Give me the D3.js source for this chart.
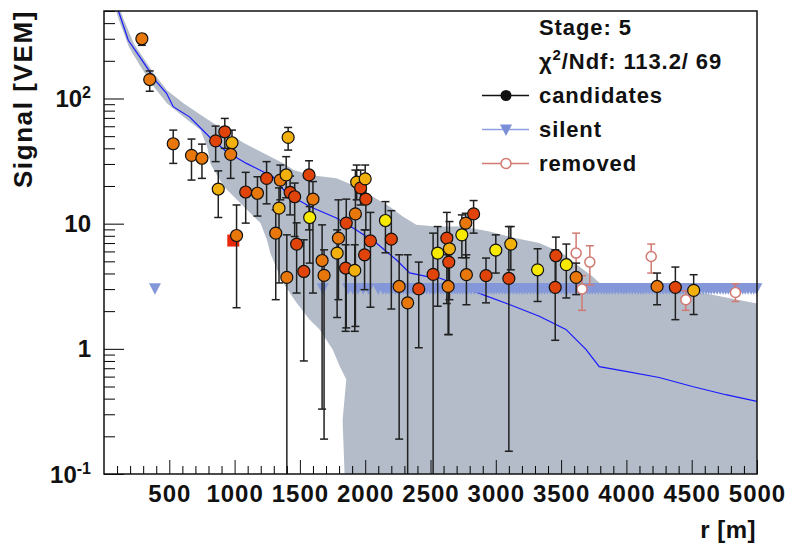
<!DOCTYPE html>
<html>
<head>
<meta charset="utf-8">
<script src="https://cdn.jsdelivr.net/npm/d3@7"></script>
<style>
  body { margin: 0; background: #fff; }
  svg { display: block; font-family: "Liberation Sans", Arial, Helvetica, sans-serif; font-weight: bold; }
</style>
</head>
<body>
<svg id="chart"></svg>
<script>
// Lateral distribution of one event: station signals vs distance, LDF fit and its band.

const width = 789;
const height = 544;

// candidate stations: r [m], signal [VEM], error bar ends, timing class
const candR = [290, 350, 530, 670, 750, 855, 925, 980, 970, 875, 1015, 1410, 1245, 1085, 1175, 1350, 1395, 1425, 1460, 1340,
  1315, 1400, 1475, 1530, 1570, 1600, 1575, 1670, 1685, 1795, 1785, 1855, 1850, 1925, 1920, 1935, 1965, 2000, 2005, 2040,
  1995, 2155, 2200, 2260, 2325, 2410, 2520, 2555, 2625, 2645, 2640, 2635, 2740, 2770, 2830, 2775, 2925, 3000, 3115, 3100,
  3320, 3460, 3455, 3540, 3615, 4235, 4375, 4515];
const candS = [300, 141.7, 43.5, 35.1, 33.3, 45.9, 54.2, 44.3, 35.8, 18.9, 8.04, 48.9, 23.0, 17.9, 17.5, 22.3, 24.5, 17.8, 16.4, 13.3,
  8.4, 3.72, 6.87, 4.15, 24.5, 15.7, 11.2, 5.08, 3.86, 7.66, 5.82, 10.1, 4.42, 11.97, 4.23, 21.5, 19.3, 22.8, 15.7, 7.29,
  5.64, 10.6, 7.52, 3.15, 2.33, 3.01, 3.93, 5.82, 7.66, 6.3, 4.93, 3.15, 8.14, 10.1, 11.97, 3.91, 3.84, 6.15, 6.87, 3.65,
  4.28, 5.54, 3.1, 4.7, 3.72, 3.15, 3.1, 2.93];
const candLo = [266, 114.3, 30.3, 22.3, 23.0, 31.3, 40.0, 35.3, 23.0, 11.2, 2.13, 38.7, 14.4, 10.1, 11.5, 15.5, 16.1, 11.75, 7.89, 3.36,
  2.47, 0.05, 2.79, 0.8, 8.92, 2.79, 4.84, 0.33, 0.19, 2.47, 1.78, 1.47, 1.38, 1.51, 1.38, 15.5, 14.1, 17.0, 8.92, 2.15,
  2.97, 5.85, 2.08, 0.19, 0.05, 1.02, 0.05, 2.19, 2.3, 2.47, 1.3, 1.3, 5.34, 5.34, 8.4, 2.25, 2.33, 4.03, 4.28, 0.152,
  2.39, 2.97, 1.17, 2.55, 2.71, 2.25, 1.71, 1.88];
const candHi = [325, 166, 55.9, 47.4, 43.2, 60.2, 69.3, 55.9, 41.7, 26.4, 14.1, 58.7, 31.3, 25.7, 23.7, 29.4, 34.3, 24.0, 21.1, 19.3,
  12.9, 8.14, 10.15, 7.43, 31.8, 21.7, 13.7, 9.78, 6.18, 15.5, 8.92, 15.7, 6.78, 26.8, 6.78, 29.4, 26.8, 29.4, 22.3, 12.3,
  8.92, 15.0, 12.7, 5.64, 5.64, 4.93, 8.4, 9.48, 12.3, 10.4, 8.14, 5.64, 11.75, 12.1, 15.3, 5.64, 5.31, 8.14, 9.48, 9.48,
  6.3, 7.81, 6.18, 6.87, 4.84, 4.03, 4.5, 3.91];
const candTime = ["o", "o", "o", "o", "o", "r", "r", "g", "o", "g", "o", "g", "r", "r", "o", "o", "g", "r", "r", "g",
  "o", "o", "r", "r", "r", "o", "y", "o", "o", "o", "g", "r", "r", "o", "g", "g", "r", "g", "r", "r",
  "r", "y", "r", "o", "o", "r", "r", "y", "r", "g", "r", "o", "y", "o", "r", "o", "r", "y", "g", "r",
  "y", "r", "r", "y", "o", "o", "r", "g"];

// saturated station drawn as a square
const satR = [990];
const satS = [7.33];

// removed stations
const remR = [3615, 3720, 3660, 4190, 4455, 4835];
const remS = [5.82, 4.93, 3.01, 5.47, 2.47, 2.82];
const remLo = [3.57, 3.24, 2.03, 4.03, 2.03, 2.39];
const remHi = [8.4, 6.66, 3.84, 6.87, 2.91, 3.31];

// silent stations (drawn at the trigger level)
const silentLevel = 3.1;
const silentR = [390, 1675, 1870, 1905, 1945, 1985, 2025, 2100, 2135, 2158, 2180, 2205, 2230, 2250, 2270, 2292, 2315,
  2338, 2360, 2380, 2400, 2422, 2445, 2470, 2495, 2515, 2535, 2558, 2580, 2600, 2620, 2642, 2665, 2685, 2705, 2725,
  2745, 2768, 2790, 2812, 2835, 2858, 2880, 2900, 2920, 2942, 2965, 2985, 3005, 3028, 3050, 3070, 3090, 3112, 3135,
  3158, 3180, 3200, 3220, 3242, 3265, 3288, 3310, 3330, 3350, 3372, 3395, 3418, 3440, 3460, 3480, 3502, 3525, 3548,
  3570, 3590, 3610, 3632, 3655, 3678, 3700, 3720, 3740, 3762, 3785, 3808, 3830, 3850, 3870, 3892, 3915, 3938, 3960,
  3980, 4000, 4022, 4045, 4068, 4090, 4110, 4130, 4152, 4175, 4198, 4220, 4240, 4260, 4282, 4305, 4328, 4350, 4370,
  4390, 4412, 4435, 4458, 4480, 4500, 4520, 4542, 4565, 4588, 4610, 4630, 4650, 4672, 4695, 4718, 4740, 4760, 4780,
  4800, 4820, 4845, 4870, 4890, 4910, 4932, 4955, 4975, 4995];

// LDF fit
const ldfR = [100, 186, 275, 403, 479, 530, 657, 810, 938, 1091, 1294, 1397, 1575, 1779, 1932, 2085, 2238, 2340, 2467,
  2569, 2900, 3104, 3333, 3537, 3690, 3792, 3996, 4251, 4505, 4761, 5000];
const ldfS = [540, 292, 214, 136, 110, 86, 71, 49, 37.6, 30.3, 23.7, 17.5, 13.7, 11.1, 8.9, 7.0, 5.15, 4.04, 3.79,
  3.68, 2.71, 2.26, 1.82, 1.43, 0.99, 0.72, 0.66, 0.59, 0.5, 0.43, 0.38];

// LDF uncertainty band
const bandUpR = [100, 153, 229, 382, 484, 611, 765, 917, 1070, 1223, 1376, 1453, 1575, 1779, 1932, 2059, 2186, 2288,
  2391, 2543, 2747, 2951, 3155, 3333, 3511, 3639, 3741, 3792, 4174, 4579, 5000];
const bandUpS = [600, 421, 274, 158, 116, 91, 71, 56, 44, 36.5, 30.3, 26.8, 24.5, 23.1, 19.8, 16.4, 13.7, 11.4,
  9.8, 9.5, 9.5, 8.65, 7.66, 7.0, 5.8, 4.55, 3.78, 3.37, 2.97, 2.81, 2.3];
const bandLoR = [70, 115, 191, 281, 382, 484, 611, 739, 790, 816, 917, 1070, 1198, 1248, 1274, 1325, 1368, 1473,
  1575, 1651, 1751, 1804, 1855, 1827, 1842, 1845, 5000];
const bandLoS = [600, 421, 258, 179, 124, 91, 71, 56, 41, 30, 19.8, 13.7, 10.1, 7.4, 5.8, 4.3, 3.4, 2.34,
  1.71, 1.43, 0.99, 0.73, 0.57, 0.27, 0.1, 0.03, 0.03];

// axis ticks
const xTicks = [500, 1000, 1500, 2000, 2500, 3000, 3500, 4000, 4500, 5000];
const yTicks = [0.1, 1, 10, 100];
const yTickLabels = [["10", "-1"], ["1", ""], ["10", ""], ["10", "2"]];

// legend
const legendHeader = ["Stage: 5", "χ2/Ndf: 113.2/ 69"];
const legendItems = ["candidates", "silent", "removed"];

const timeColors = { y: "#f7e900", g: "#f2b00c", o: "#e8780c", r: "#e0440a" };

const x = d3.scaleLinear().domain([0, 5000]).range([104, 757]);
const y = d3.scaleLog().domain([0.1, 500]).range([474, 11]);

const svg = d3.select("#chart").attr("width", width).attr("height", height);

svg.append("defs").append("clipPath").attr("id", "plot-clip")
  .append("rect").attr("x", 104).attr("y", 11).attr("width", 653).attr("height", 463);

const plot = svg.append("g").attr("clip-path", "url(#plot-clip)");

// band
const bandPts = bandUpR.map((r, i) => [x(r), y(bandUpS[i])])
  .concat(bandLoR.map((r, i) => [x(r), y(bandLoS[i])]).reverse());
plot.append("path")
  .attr("d", d3.line()(bandPts) + "Z")
  .attr("fill", "#b3bcc8");

// fit line
plot.append("path")
  .datum(ldfR.map((r, i) => [x(r), y(ldfS[i])]))
  .attr("d", d3.line())
  .attr("fill", "none")
  .attr("stroke", "#1a1aff")
  .attr("stroke-width", 1.2);

// silent stations
const triPath = "M-6,-4L6,-4L0,7.5Z";
svg.append("g").selectAll("path")
  .data(silentR)
  .enter()
  .append("path")
  .attr("d", triPath)
  .attr("transform", (r) => `translate(${x(r)},${y(silentLevel)})`)
  .attr("fill", "#8497d9");

const drawErrors = (g, rs, los, his, color, width) => {
  const bars = g.append("g").attr("clip-path", "url(#plot-clip)")
    .attr("stroke", color).attr("stroke-width", width);
  rs.forEach((r, i) => {
    const cx = x(r);
    bars.append("line").attr("x1", cx).attr("x2", cx).attr("y1", y(his[i])).attr("y2", y(los[i]));
    bars.append("line").attr("x1", cx - 4).attr("x2", cx + 4).attr("y1", y(his[i])).attr("y2", y(his[i]));
    if (los[i] >= 0.1) {
      bars.append("line").attr("x1", cx - 4).attr("x2", cx + 4).attr("y1", y(los[i])).attr("y2", y(los[i]));
    }
  });
};

// removed stations
const remG = svg.append("g");
drawErrors(remG, remR, remLo, remHi, "#d27a72", 1.5);
remG.selectAll("circle")
  .data(remR)
  .enter()
  .append("circle")
  .attr("cx", (r) => x(r))
  .attr("cy", (r, i) => y(remS[i]))
  .attr("r", 5)
  .attr("fill", "#fff")
  .attr("stroke", "#d27a72")
  .attr("stroke-width", 1.5);

// saturated station
svg.append("g").selectAll("rect")
  .data(satR)
  .enter()
  .append("rect")
  .attr("x", (r) => x(r) - 6)
  .attr("y", (r, i) => y(satS[i]) - 6)
  .attr("width", 12)
  .attr("height", 12)
  .attr("fill", "#e8280a");

// candidates
const candG = svg.append("g");
drawErrors(candG, candR, candLo, candHi, "#202020", 1.5);
candG.selectAll("circle")
  .data(candR)
  .enter()
  .append("circle")
  .attr("cx", (r) => x(r))
  .attr("cy", (r, i) => y(candS[i]))
  .attr("r", 6)
  .attr("fill", (r, i) => timeColors[candTime[i]])
  .attr("stroke", "#111")
  .attr("stroke-width", 1.2);

// axes
const xMinor = d3.range(100, 5000, 100).filter((v) => v % 500 !== 0);
svg.append("g")
  .attr("transform", "translate(0,474)")
  .call(d3.axisBottom(x).tickValues(xMinor).tickSize(-8).tickFormat(""))
  .call((g) => g.select(".domain").remove());

const xAxis = svg.append("g")
  .attr("transform", "translate(0,474)")
  .call(d3.axisBottom(x).tickValues(xTicks).tickSize(-14).tickFormat(d3.format("d")))
  .call((g) => g.select(".domain").remove());
xAxis.selectAll(".tick line").attr("stroke", "#111");
xAxis.selectAll(".tick text")
  .attr("y", 28).attr("dy", 0)
  .attr("font-size", 24).attr("font-weight", "bold")
  .attr("letter-spacing", 1)
  .attr("font-family", "Liberation Sans, Arial, sans-serif")
  .attr("fill", "#111");

const yMinor = [];
yTicks.forEach((d) => {
  for (let k = 2; k <= 9; k++) if (d * k <= 500) yMinor.push(d * k);
});
svg.append("g")
  .attr("transform", "translate(104,0)")
  .call(d3.axisLeft(y).tickValues(yMinor).tickSize(-11).tickFormat(""))
  .call((g) => g.select(".domain").remove());
svg.append("g")
  .attr("transform", "translate(104,0)")
  .call(d3.axisLeft(y).tickValues(yTicks).tickSize(-20).tickFormat(""))
  .call((g) => g.select(".domain").remove());

const yLab = svg.append("g").attr("font-size", 24).attr("fill", "#111").attr("text-anchor", "end");
yTicks.forEach((v, i) => {
  const t = yLab.append("text").attr("x", 91).attr("y", y(v) + 8.5);
  t.append("tspan").text(yTickLabels[i][0]);
  if (yTickLabels[i][1]) {
    t.append("tspan").attr("dy", -9).attr("font-size", 16).text(yTickLabels[i][1]);
  }
});

// frame
svg.append("rect")
  .attr("x", 104).attr("y", 11).attr("width", 653).attr("height", 463)
  .attr("fill", "none").attr("stroke", "#111").attr("stroke-width", 1.5);

// axis titles
svg.append("text")
  .attr("x", 756).attr("y", 538)
  .attr("text-anchor", "end").attr("font-size", 24).attr("fill", "#111")
  .attr("letter-spacing", 0.5)
  .text("r [m]");
svg.append("text")
  .attr("transform", "translate(32,10) rotate(-90)")
  .attr("text-anchor", "end").attr("font-size", 26).attr("fill", "#111")
  .attr("letter-spacing", 1.6)
  .text("Signal [VEM]");

// legend
const legend = svg.append("g").attr("font-size", 22).attr("fill", "#111").attr("letter-spacing", 0.9);
const rowY = [35, 68.5, 102.5, 136.5, 170.5];
legend.append("text").attr("x", 539).attr("y", rowY[0]).text(legendHeader[0]);
const chi = legend.append("text").attr("x", 539).attr("y", rowY[1]);
chi.append("tspan").text(legendHeader[1][0]);
chi.append("tspan").attr("dy", -9).attr("font-size", 15).text(legendHeader[1][1]);
chi.append("tspan").attr("dy", 9).text(legendHeader[1].slice(2));

const legColors = ["#111", "#8fa0e2", "#d27a72"];
legendItems.forEach((name, i) => {
  const yy = rowY[i + 2];
  const cy = yy - 7;
  legend.append("line")
    .attr("x1", 482).attr("x2", 529).attr("y1", cy).attr("y2", cy)
    .attr("stroke", legColors[i]).attr("stroke-width", 1.5);
  if (i === 0) {
    legend.append("circle").attr("cx", 506).attr("cy", cy).attr("r", 5.5).attr("fill", "#111");
  } else if (i === 1) {
    legend.append("path").attr("d", triPath).attr("transform", `translate(506,${cy - 1})`).attr("fill", "#7b8ed8");
  } else {
    legend.append("circle").attr("cx", 506).attr("cy", cy).attr("r", 5)
      .attr("fill", "#fff").attr("stroke", legColors[i]).attr("stroke-width", 1.5);
  }
  legend.append("text").attr("x", 539).attr("y", yy).text(name);
});
</script>
</body>
</html>
